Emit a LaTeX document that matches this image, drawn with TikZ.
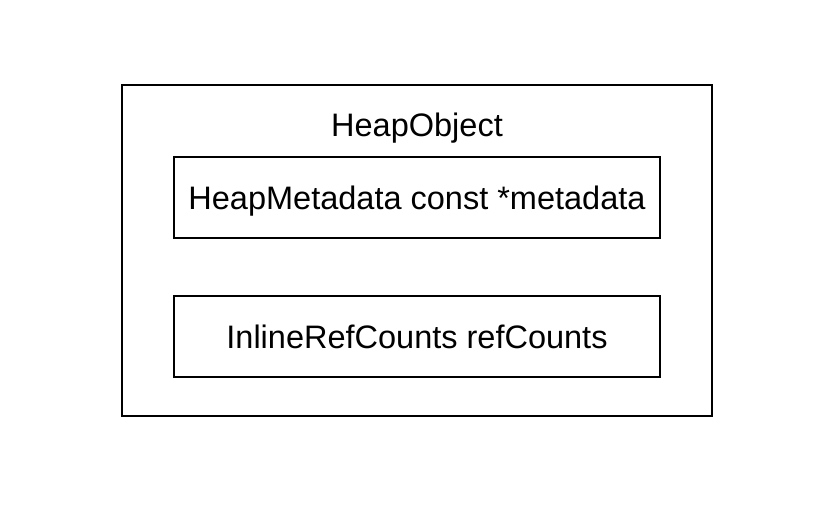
\documentclass[tikz,border=0pt]{standalone}
\usepackage{fontspec}
\setmainfont{Liberation Sans}
\begin{document}
\begin{tikzpicture}[x=1pt,y=-1pt,
  box/.style={draw=black,line width=2pt,fill=white},
  lbl/.style={font=\fontsize{32.5}{38}\selectfont,inner sep=0pt,anchor=base}]
\useasboundingbox (0,0) rectangle (840,526);
\fill[white] (0,0) rectangle (840,526);
\draw[box] (121.7,85) rectangle (712.3,416.3);
\node[lbl] (title) at (417,136.7) {HeapObject};
\draw[box] (173.7,157) rectangle (660,237.7);
\node[lbl] (meta) at (417,210) {HeapMetadata const *metadata};
\draw[box] (173.7,296) rectangle (660,376.7);
\node[lbl] (rc) at (417,348.5) {InlineRefCounts refCounts};
\end{tikzpicture}
\end{document}
